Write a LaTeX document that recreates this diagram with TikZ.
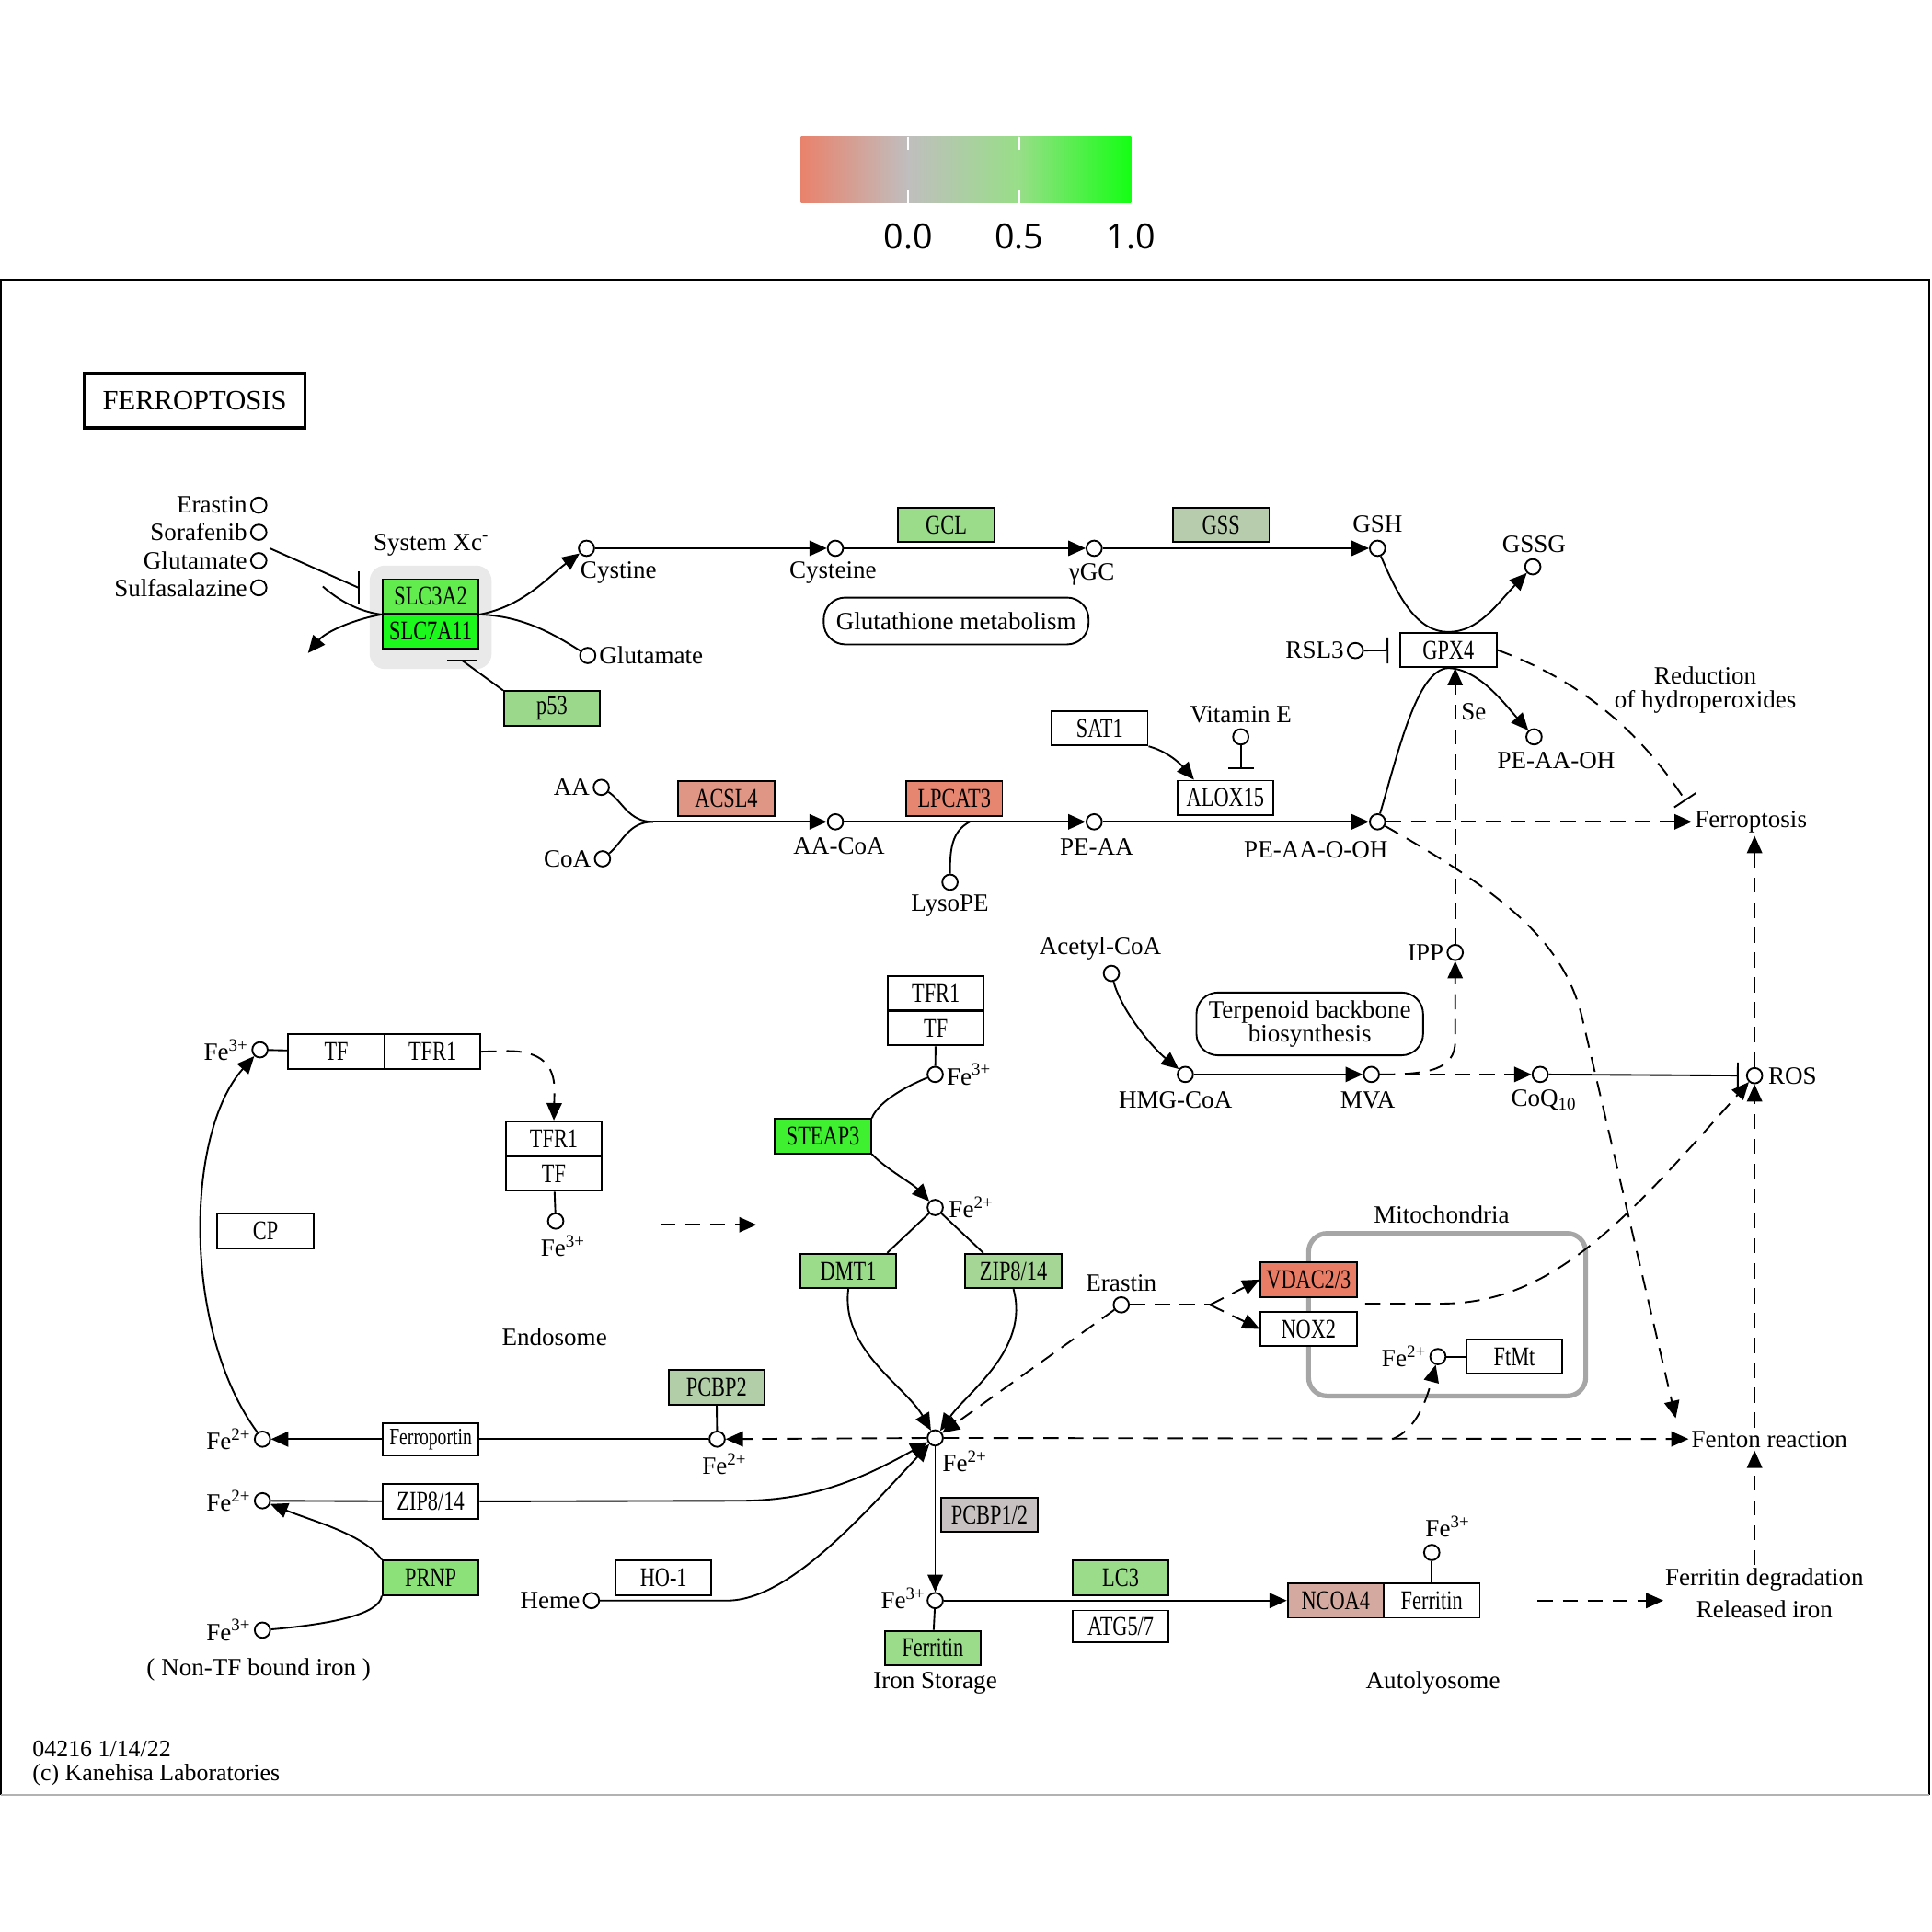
\documentclass[tikz,border=0pt]{standalone}
\usepackage{fontspec}
\usepackage{graphicx}
\setmainfont{Liberation Serif}
\newfontfamily\genefont{Liberation Serif}[FakeStretch=0.76]
\newfontfamily\legendfont{Open Sans}
\usetikzlibrary{arrows.meta,positioning}

\definecolor{cSLC3}{RGB}{98,236,78}
\definecolor{cSLC7}{RGB}{28,248,28}
\definecolor{cSTEAP}{RGB}{62,240,48}
\definecolor{cPRNP}{RGB}{140,226,120}
\definecolor{cGCL}{RGB}{154,220,138}
\definecolor{cP53}{RGB}{156,216,140}
\definecolor{cZIP}{RGB}{166,214,150}
\definecolor{cPCBP2}{RGB}{178,206,168}
\definecolor{cGSS}{RGB}{182,204,172}
\definecolor{cPCBP12}{RGB}{200,193,193}
\definecolor{cACSL}{RGB}{224,150,132}
\definecolor{cLPCAT}{RGB}{230,134,112}
\definecolor{cVDAC}{RGB}{233,124,100}
\definecolor{cNCOA}{RGB}{212,170,160}
\definecolor{lgRed}{RGB}{233,130,108}
\definecolor{lgGray}{RGB}{192,190,190}
\definecolor{lgMid}{RGB}{152,222,136}
\definecolor{lgGreen}{RGB}{20,255,20}

\tikzset{
  gene/.style={draw, line width=0.8pt, fill=white, minimum width=1.56cm, minimum height=0.56cm, inner sep=0pt, font=\genefont\fontsize{12.5}{13}\selectfont},
  cpd/.style={draw, circle, line width=0.8pt, fill=white, minimum size=0.25cm, inner sep=0pt},
  lbl/.style={inner sep=1pt, font=\fontsize{11.5}{13}\selectfont},
  arr/.style={-{Triangle[length=8pt,width=7pt]}},
  inh/.style={-{Bar[width=12pt]}},
  dsh/.style={dash pattern=on 7pt off 4.5pt},
  pmap/.style={draw, line width=0.8pt, rounded corners=0.35cm, inner sep=2pt, align=center, font=\fontsize{11.5}{11}\selectfont}
}

\begin{document}
\begin{tikzpicture}[x=0.02cm,y=-0.02cm,line width=0.8pt]
  \useasboundingbox (0,0) rectangle (1568,1568);

  \shade[left color=lgRed,right color=lgGray] (650,111) rectangle (737,165);
  \shade[left color=lgGray,right color=lgMid] (737,111) rectangle (827,165);
  \shade[left color=lgMid,right color=lgGreen] (827,111) rectangle (918,165);
  \draw[white,line width=1pt] (737,111) -- (737,122) (737,154) -- (737,165);
  \draw[white,line width=1pt] (827,111) -- (827,122) (827,154) -- (827,165);
  \node[font=\legendfont\fontsize{16}{18}\selectfont] (leg0) at (737,192) {0.0};
  \node[font=\legendfont\fontsize{16}{18}\selectfont] (leg5) at (827,192) {0.5};
  \node[font=\legendfont\fontsize{16}{18}\selectfont] (leg1) at (918,192) {1.0};

  \draw (1,1457) -- (1,227) -- (1566,227) -- (1566,1457);
  \draw[gray!60] (1,1457) -- (1566,1457);

  \node[draw, line width=1.6pt, minimum width=3.58cm, minimum height=0.88cm, font=\fontsize{13}{14}\selectfont] (title) at (158,325) {FERROPTOSIS};

  \node[cpd] (erastinA) at (210,410) {};
  \node[lbl, left=0pt of erastinA] (erastinAL) {Erastin};
  \node[cpd] (soraf) at (210,432) {};
  \node[lbl, left=0pt of soraf] (sorafL) {Sorafenib};
  \node[cpd] (gluA) at (210,455) {};
  \node[lbl, left=0pt of gluA] (gluAL) {Glutamate};
  \node[cpd] (sulfa) at (210,477) {};
  \node[lbl, left=0pt of sulfa] (sulfaL) {Sulfasalazine};

  \node[fill=gray!17, rounded corners=0.25cm, minimum width=1.98cm, minimum height=1.68cm] (xcbg) at (349.5,501) {};
  \node[lbl] (xcL) at (350,442) {System Xc\textsuperscript{-}};
  \node[gene, fill=cSLC3] (slc3a2) at (349.5,484) {SLC3A2};
  \node[gene, fill=cSLC7] (slc7a11) at (349.5,512.5) {SLC7A11};
  \node[cpd] (cystine) at (476,445) {};
  \node[lbl] (cystineL) at (502,465) {Cystine};
  \node[cpd] (gluB) at (477,532) {};
  \node[lbl, right=0pt of gluB] (gluBL) {Glutamate};
  \node[gene, fill=cP53] (p53) at (448,575) {p53};

  \coordinate (drugs) at (219,445);
  \coordinate (xcBar) at (291,477);
  \coordinate (gluIn) at (262,476);
  \coordinate (gluOut) at (250,530);
  \coordinate (p53Bar) at (375,536);
  \draw (drugs) -- (xcBar);
  \draw (xcBar) ++(0,-13) -- ++(0,26);
  \draw (gluIn) .. controls (278,490) and (295,497) .. (slc3a2.south west);
  \draw[arr] (slc3a2.south west) .. controls (290,502) and (265,512) .. (gluOut);
  \draw[arr] (slc3a2.south east) .. controls (425,492) and (445,468) .. (cystine);
  \draw (slc3a2.south east) .. controls (425,500) and (450,515) .. (gluB);
  \draw (p53.north west) -- (p53Bar);
  \draw (p53Bar) ++(-12,0) -- ++(24,0);

  \node[cpd] (cysteine) at (678,445) {};
  \node[lbl] (cysteineL) at (676,465) {Cysteine};
  \node[gene, fill=cGCL] (gcl) at (768,426) {GCL};
  \node[cpd] (ygc) at (888,445) {};
  \node[lbl] (ygcL) at (886,466) {γGC};
  \node[gene, fill=cGSS] (gss) at (991,426) {GSS};
  \node[cpd] (gsh) at (1118,445) {};
  \node[lbl] (gshL) at (1118,425) {GSH};
  \node[pmap, minimum width=4.3cm, minimum height=0.76cm] (gsmet) at (776,504) {Glutathione metabolism};
  \draw[arr] (cystine) -- (cysteine);
  \draw[arr] (cysteine) -- (ygc);
  \draw[arr] (ygc) -- (gsh);

  \node[cpd] (gssg) at (1244,460) {};
  \node[lbl] (gssgL) at (1245,442) {GSSG};
  \node[gene] (gpx4) at (1175.5,527.5) {GPX4};
  \node[cpd] (rsl3) at (1100,528) {};
  \node[lbl, left=0pt of rsl3] (rsl3L) {RSL3};
  \draw[inh, shorten >=0.18cm] (rsl3) -- (gpx4);
  \draw[arr] (gsh) .. controls (1135,485) and (1150,513) .. (gpx4.north) .. controls (1200,513) and (1215,490) .. (gssg);

  \node[cpd] (aa) at (488,639) {};
  \node[lbl, left=0pt of aa] (aaL) {AA};
  \node[cpd] (coa) at (489,697) {};
  \node[lbl, left=0pt of coa] (coaL) {CoA};
  \coordinate (aaJ) at (530,667);
  \draw (aa) .. controls (505,650) and (510,667) .. (aaJ);
  \draw (coa) .. controls (505,684) and (510,667) .. (aaJ);
  \node[gene, fill=cACSL] (acsl4) at (589.5,648) {ACSL4};
  \node[cpd] (aacoa) at (678,667) {};
  \node[lbl] (aacoaL) at (681,687) {AA-CoA};
  \node[gene, fill=cLPCAT] (lpcat3) at (774.5,648) {LPCAT3};
  \node[cpd] (peaa) at (888,667) {};
  \node[lbl] (peaaL) at (890,687) {PE-AA};
  \node[cpd] (lysope) at (771,716) {};
  \node[lbl] (lysopeL) at (771,735) {LysoPE};
  \coordinate (lysoJ) at (787,667);
  \node[gene] (alox15) at (994.5,647.5) {ALOX15};
  \node[cpd] (peaaooh) at (1118,667) {};
  \node[lbl] (peaaoohL) at (1068,690) {PE-AA-O-OH};
  \node[gene] (sat1) at (892.5,591) {SAT1};
  \node[cpd] (vite) at (1007,598) {};
  \node[lbl] (viteL) at (1007,580) {Vitamin E};
  \coordinate (aloxBar) at (1007,624);
  \draw[arr] (aaJ) -- (aacoa);
  \draw[arr] (aacoa) -- (peaa);
  \draw[arr] (peaa) -- (peaaooh);
  \draw (lysoJ) .. controls (772,675) and (771,690) .. (lysope);
  \draw[arr] (sat1.south east) .. controls (948,610) and (958,620) .. (alox15.150);
  \draw[inh] (vite) -- (aloxBar);

  \node[cpd] (peaaoh) at (1245,598) {};
  \node[lbl] (peaaohL) at (1263,617) {PE-AA-OH};
  \node[lbl] (seL) at (1196,578) {Se};
  \node[cpd] (ipp) at (1181,773) {};
  \node[lbl, left=0pt of ipp] (ippL) {IPP};
  \draw[arr] (peaaooh) .. controls (1135,610) and (1150,543) .. (gpx4.south) .. controls (1200,543) and (1220,570) .. (peaaoh);
  \draw[arr, dsh] (ipp) -- (ipp |- gpx4.south);

  \node[lbl] (ferro) at (1421,667) {Ferroptosis};
  \node[lbl, align=center, font=\fontsize{11.5}{11}\selectfont] (redL) at (1384,560) {Reduction\\of hydroperoxides};
  \coordinate (ferroBar) at (1368,650);
  \draw[arr, dsh] (peaaooh) -- (ferro);
  \draw[inh, dsh] (gpx4.east) .. controls (1290,555) and (1335,600) .. (ferroBar);

  \node[lbl] (fenton) at (1436,1168) {Fenton reaction};
  \coordinate (fentonIn) at (1360,1151);
  \draw[arr, dsh] (peaaooh) .. controls (1230,730) and (1272,770) .. (1285,830) -- (fentonIn);

  \node[cpd] (acetyl) at (902,790) {};
  \node[lbl] (acetylL) at (893,770) {Acetyl-CoA};
  \node[cpd] (hmg) at (962,872) {};
  \node[lbl] (hmgL) at (954,893) {HMG-CoA};
  \node[cpd] (mva) at (1113,872) {};
  \node[lbl] (mvaL) at (1110,893) {MVA};
  \node[cpd] (coq) at (1250,872) {};
  \node[lbl] (coqL) at (1253,893) {CoQ\textsubscript{10}};
  \node[pmap, minimum width=3.68cm, minimum height=1.02cm] (terp) at (1063,831) {Terpenoid backbone\\biosynthesis};
  \node[cpd] (ros) at (1424,873) {};
  \node[lbl, right=1pt of ros] (rosL) {ROS};
  \draw[arr] (acetyl) .. controls (910,820) and (935,850) .. (hmg);
  \draw[arr] (hmg) -- (mva);
  \draw[arr, dsh] (mva) -- (coq);
  \draw[arr, dsh] (mva) .. controls (1160,872) and (1181,868) .. (1181,845) -- (ipp);
  \draw[inh, shorten >=0.12cm] (coq) -- (ros);
  \draw[arr, dsh] (ros) -- (ros |- ferro.south);
  \draw[arr, dsh] (fenton.north -| ros) -- (ros);

  \node[lbl, align=center, font=\fontsize{11.5}{15}\selectfont] (ftdeg) at (1432,1293) {Ferritin degradation\\Released iron};
  \draw[arr, dsh] (ftdeg.north -| ros) -- (fenton.south -| ros);

  \node[cpd] (fe3a) at (211,852) {};
  \node[lbl, left=0pt of fe3a] (fe3aL) {Fe\textsuperscript{3+}};
  \node[gene] (tfA) at (273,853.5) {TF};
  \node[gene] (tfr1A) at (351,853.5) {TFR1};
  \node[gene] (tfr1B) at (449.5,924) {TFR1};
  \node[gene] (tfB) at (449.5,952.5) {TF};
  \node[cpd] (fe3c) at (451,991) {};
  \node[lbl] (fe3cL) at (457,1011) {Fe\textsuperscript{3+}};
  \node[gene] (cp) at (215.5,999) {CP};
  \node[lbl] (endoL) at (450,1085) {Endosome};
  \coordinate (endoA) at (536,994);
  \coordinate (endoB) at (614,994);
  \draw (fe3a) -- (tfA);
  \draw[arr, dsh] (tfr1A.east) -- (412,853) .. controls (440,853) and (450,865) .. (450,885) -- (tfr1B.north);
  \draw (tfB) -- (fe3c);
  \draw[arr, dsh] (endoA) -- (endoB);

  \node[gene] (tfr1C) at (759.5,806) {TFR1};
  \node[gene] (tfC) at (759.5,834.5) {TF};
  \node[cpd] (fe3b) at (759,872) {};
  \node[lbl, right=0pt of fe3b] (fe3bL) {Fe\textsuperscript{3+}};
  \node[gene, fill=cSTEAP] (steap3) at (668,922) {STEAP3};
  \node[cpd] (fe2b) at (759,980) {};
  \node[lbl, right=1pt of fe2b] (fe2bL) {Fe\textsuperscript{2+}};
  \node[gene, fill=cGCL] (dmt1) at (688.5,1031.5) {DMT1};
  \node[gene, fill=cZIP] (zipA) at (822.5,1031.5) {ZIP8/14};
  \draw (tfC) -- (fe3b);
  \draw (fe3b) .. controls (730,884) and (712,896) .. (steap3.north east);
  \draw[arr] (steap3.south east) .. controls (718,948) and (740,960) .. (fe2b);
  \draw (fe2b) -- (dmt1.25);
  \draw (fe2b) -- (zipA.149);

  \node[cpd] (fe2c) at (759,1167) {};
  \node[lbl] (fe2cL) at (783,1186) {Fe\textsuperscript{2+}};
  \draw[arr] (dmt1.south) .. controls (682,1095) and (735,1125) .. (fe2c);
  \draw[arr] (zipA.south) .. controls (836,1095) and (785,1130) .. (fe2c);

  \node[cpd] (erastinB) at (910,1059) {};
  \node[lbl] (erastinBL) at (910,1041) {Erastin};
  \node[draw=gray!70, line width=2.2pt, rounded corners=0.3cm, minimum width=4.5cm, minimum height=2.64cm] (mito) at (1174.5,1067) {};
  \node[lbl] (mitoL) at (1170,986) {Mitochondria};
  \node[gene, fill=cVDAC] (vdac) at (1062,1038.5) {VDAC2/3};
  \node[gene] (nox2) at (1062,1078.5) {NOX2};
  \node[cpd] (fe2m) at (1167,1101) {};
  \node[lbl, left=0pt of fe2m] (fe2mL) {Fe\textsuperscript{2+}};
  \node[gene] (ftmt) at (1229,1101) {FtMt};
  \coordinate (erJ) at (982,1059);
  \coordinate (vdacOut) at (1108,1058);
  \draw (fe2m) -- (ftmt);
  \draw[arr, dsh] (erastinB) -- (fe2c);
  \draw[dsh] (erastinB) -- (erJ);
  \draw[arr, dsh] (erJ) -- (vdac.west);
  \draw[arr, dsh] (erJ) -- (nox2.west);
  \draw[arr, dsh] (vdacOut) -- (1170,1058) .. controls (1260,1058) and (1320,990) .. (ros);

  \node[cpd] (fe2p) at (582,1168) {};
  \node[lbl] (fe2pL) at (588,1188) {Fe\textsuperscript{2+}};
  \node[gene, fill=cPCBP2] (pcbp2) at (581.5,1126) {PCBP2};
  \node[gene, minimum height=0.52cm, font=\genefont\fontsize{11}{12}\selectfont] (fpn) at (349.5,1168) {Ferroportin};
  \node[cpd] (fe2l) at (213,1168) {};
  \node[lbl, left=0pt of fe2l] (fe2lL) {Fe\textsuperscript{2+}};
  \coordinate (mitoJ) at (1130,1168);
  \draw (pcbp2) -- (fe2p);
  \draw[arr, dsh] (fe2c) -- (fe2p);
  \draw (fe2p) -- (fpn);
  \draw[arr] (fpn) -- (fe2l);
  \draw[arr, dsh] (fe2c) -- (fenton);
  \draw[arr, dsh] (mitoJ) .. controls (1150,1160) and (1158,1135) .. (fe2m);
  \draw[arr] (fe2l) .. controls (148,1080) and (150,920) .. (fe3a);

  \node[gene] (zipB) at (349.5,1218.5) {ZIP8/14};
  \node[cpd] (fe2z) at (213,1218) {};
  \node[lbl, left=0pt of fe2z] (fe2zL) {Fe\textsuperscript{2+}};
  \node[gene, fill=cPRNP] (prnp) at (349.5,1280.5) {PRNP};
  \node[cpd] (fe3n) at (213,1323) {};
  \node[lbl, left=0pt of fe3n] (fe3nL) {Fe\textsuperscript{3+}};
  \node[lbl] (nontf) at (210,1355) {( Non-TF bound iron )};
  \draw (fe2z) -- (zipB);
  \draw[arr] (zipB.east) -- (600,1218) .. controls (660,1218) and (700,1200) .. (fe2c);
  \draw (fe3n) .. controls (270,1318) and (308,1310) .. (prnp.south west);
  \draw[arr] (prnp.north west) .. controls (295,1245) and (255,1235) .. (fe2z);

  \node[cpd] (heme) at (480,1299) {};
  \node[lbl, left=0pt of heme] (hemeL) {Heme};
  \node[gene] (ho1) at (538.5,1280.5) {HO-1};
  \draw[arr] (heme) -- (590,1299) .. controls (640,1299) and (700,1230) .. (fe2c);

  \node[gene, fill=cPCBP12] (pcbp12) at (803,1229.5) {PCBP1/2};
  \node[cpd] (fe3d) at (759,1299) {};
  \node[lbl] (fe3dL) at (733,1297) {Fe\textsuperscript{3+}};
  \node[gene, fill=cGCL] (ferritinA) at (757,1337.5) {Ferritin};
  \node[lbl] (storL) at (759,1366) {Iron Storage};
  \node[gene, fill=cGCL] (lc3) at (909.5,1280.5) {LC3};
  \node[gene, minimum height=0.52cm] (atg) at (909.5,1320) {ATG5/7};
  \node[gene, fill=cNCOA] (ncoa4) at (1084,1299) {NCOA4};
  \node[gene] (ferritinB) at (1162,1299) {Ferritin};
  \node[cpd] (fe3e) at (1162,1260) {};
  \node[lbl] (fe3eL) at (1175,1239) {Fe\textsuperscript{3+}};
  \node[lbl] (autoL) at (1163,1366) {Autolyosome};
  \coordinate (degA) at (1248,1299);
  \coordinate (degB) at (1350,1299);
  \draw[arr] (fe2c) -- (fe3d);
  \draw (fe3d) -- (ferritinA);
  \draw[arr] (fe3d) -- (ncoa4);
  \draw (fe3e) -- (ferritinB);
  \draw[arr, dsh] (degA) -- (degB);

  \node[lbl, anchor=west, align=left, font=\fontsize{11}{11.3}\selectfont] (footer) at (24,1431) {04216 1/14/22\\(c) Kanehisa Laboratories};
\end{tikzpicture}
\end{document}
